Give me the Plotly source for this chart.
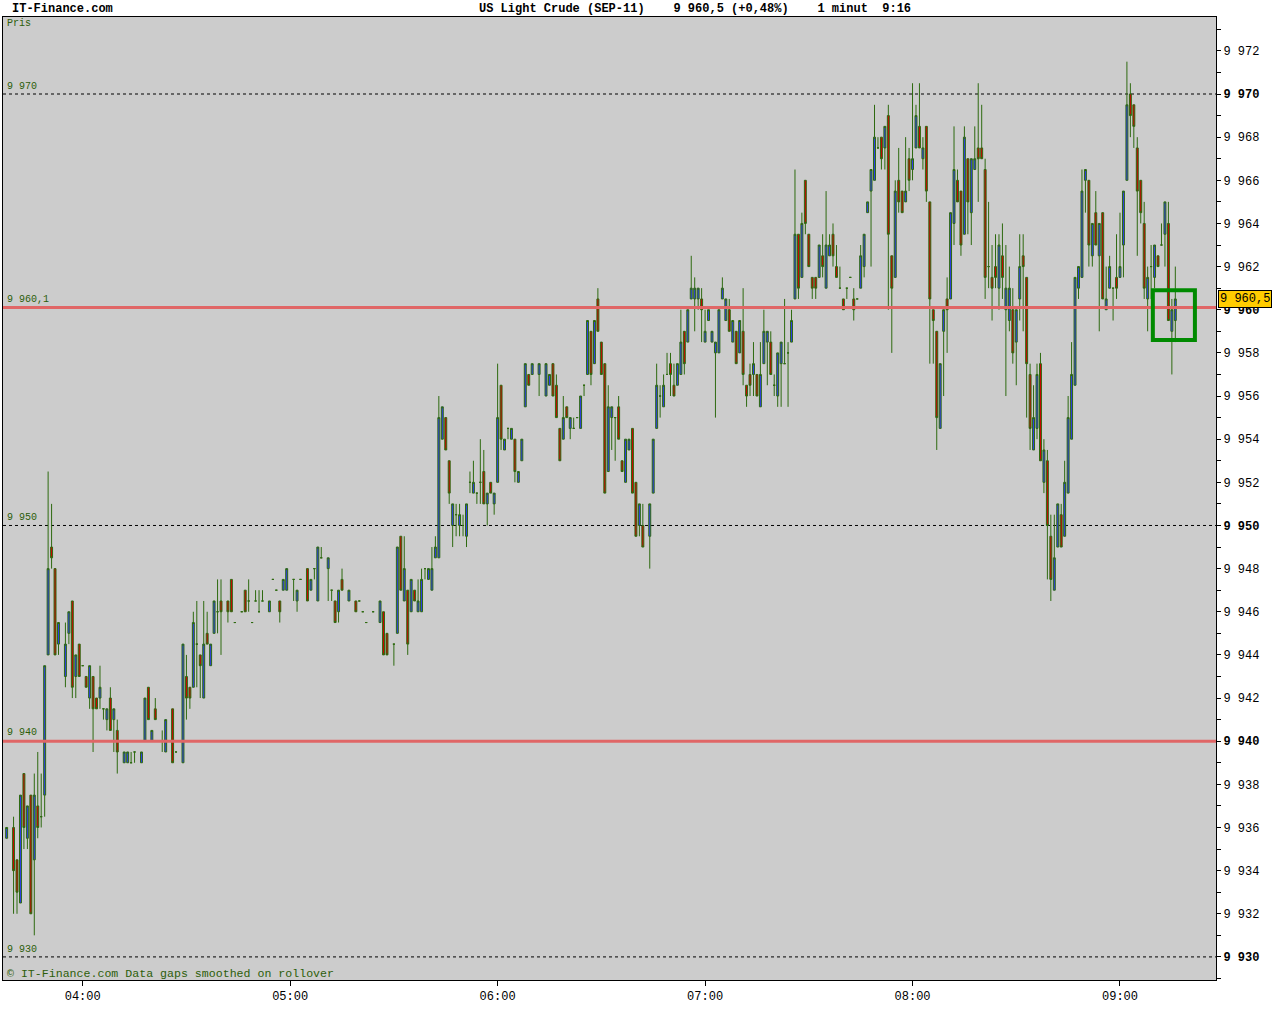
import plotly.graph_objects as go

DAY = "2011-08-03"

# ---------------- data (1-minute bars) ----------------
times = [
    # 03:xx
    "03:38", "03:40", "03:41", "03:42", "03:43", "03:44", "03:45", "03:46", "03:47", "03:48",
    "03:49", "03:50", "03:51", "03:52", "03:53", "03:55", "03:56", "03:57", "03:58", "03:59",
    # 04:xx
    "04:00", "04:01", "04:02", "04:03", "04:04", "04:05", "04:06", "04:07", "04:08", "04:09", "04:10",
    "04:12", "04:13", "04:14", "04:15",
    "04:17", "04:18", "04:19", "04:20", "04:21",
    "04:23", "04:24",
    "04:26", "04:27",
    "04:29", "04:30", "04:31", "04:32", "04:33", "04:34", "04:35", "04:36", "04:37", "04:38", "04:39", "04:40",
    "04:42", "04:43", "04:44",
    "04:46", "04:47", "04:48", "04:49", "04:50", "04:51", "04:52",
    "04:54", "04:55", "04:56", "04:57", "04:58", "04:59",
    # 05:xx
    "05:01", "05:02", "05:03", "05:05", "05:06", "05:07", "05:08", "05:09", "05:11", "05:12",
    "05:13", "05:14", "05:15", "05:17", "05:19", "05:20", "05:21", "05:22", "05:24", "05:26",
    "05:27", "05:28",
    "05:30", "05:31", "05:32", "05:33", "05:34", "05:35", "05:36", "05:37", "05:38", "05:39",
    "05:40", "05:41", "05:42", "05:43", "05:44", "05:45", "05:46", "05:47", "05:48", "05:49",
    "05:50", "05:51", "05:52", "05:53", "05:54", "05:55", "05:56", "05:57", "05:58", "05:59",
    # 06:xx
    "06:00", "06:01", "06:02", "06:03", "06:04", "06:05", "06:06", "06:07", "06:08", "06:09", "06:10",
    "06:12",
    "06:14", "06:15", "06:16", "06:17", "06:18", "06:19", "06:20", "06:21", "06:22", "06:23",
    "06:24", "06:25", "06:26", "06:27", "06:28", "06:29", "06:30", "06:31", "06:32", "06:33",
    "06:34", "06:35", "06:36", "06:37", "06:38", "06:39", "06:40", "06:41", "06:42",
    "06:44", "06:45", "06:46", "06:47", "06:48", "06:49", "06:50", "06:51", "06:52", "06:53",
    "06:54", "06:55", "06:56", "06:57", "06:58", "06:59",
    # 07:xx
    "07:00", "07:01", "07:02", "07:03", "07:04", "07:05", "07:06", "07:07", "07:08", "07:09",
    "07:10", "07:11", "07:12", "07:13", "07:14", "07:15", "07:16", "07:17", "07:18", "07:19",
    "07:20", "07:21", "07:22", "07:23", "07:24", "07:25", "07:26", "07:27", "07:28", "07:29",
    "07:30", "07:31", "07:32", "07:33", "07:34", "07:35", "07:36", "07:37", "07:38", "07:39",
    "07:40", "07:41", "07:42", "07:43", "07:44", "07:45", "07:46", "07:47", "07:48", "07:49",
    "07:50", "07:51", "07:52", "07:53", "07:54", "07:55", "07:56", "07:57", "07:58", "07:59",
    # 08:xx
    "08:00", "08:01", "08:02", "08:03", "08:04", "08:05", "08:06", "08:07", "08:08", "08:09",
    "08:10", "08:11", "08:12", "08:13", "08:14", "08:15", "08:16", "08:17", "08:18", "08:19",
    "08:20", "08:21", "08:22", "08:23", "08:24", "08:25", "08:26", "08:27", "08:28", "08:29",
    "08:30", "08:31", "08:32", "08:33", "08:34", "08:35", "08:36", "08:37", "08:38", "08:39",
    "08:40", "08:41", "08:42", "08:43", "08:44", "08:45", "08:46", "08:47", "08:48", "08:49",
    "08:50", "08:51", "08:52", "08:53", "08:54", "08:55", "08:56", "08:57", "08:58", "08:59",
    # 09:xx
    "09:00", "09:01", "09:02", "09:03", "09:04", "09:05", "09:06", "09:07", "09:08", "09:09",
    "09:10", "09:11", "09:12", "09:13", "09:14", "09:15", "09:16",
]

opens = [
    # 03
    9935.5, 9936, 9934.5, 9932.5, 9938.5, 9935.5, 9937.5, 9934.5, 9937, 9936.5,
    9937.5, 9944, 9949, 9948, 9944.5, 9943, 9945, 9946.5, 9943, 9944.5,
    # 04
    9943.5, 9943, 9942, 9943, 9942, 9942, 9941.5, 9941, 9942, 9941, 9940.5,
    9939, 9939, 9939, 9939.5,
    9939, 9940, 9942.5, 9940, 9941.5,
    9940, 9939.5,
    9941.5, 9939.5,
    9939, 9943, 9942.5, 9942.5, 9944.5, 9944, 9942, 9945, 9943.5, 9945, 9946, 9946.5,
    9946.5, 9947.5, 9945.5,
    9946, 9947, 9946.5, 9945.5, 9946.5, 9946, 9946.5,
    9946, 9947.5, 9947, 9946.5, 9947, 9947,
    # 05
    9947.5, 9946.5, 9947.5, 9948, 9947, 9948, 9946.5, 9948.5, 9948, 9947,
    9946.5, 9946, 9947.5, 9946.5, 9946.5, 9946.5, 9946, 9945.5, 9946, 9945.5,
    9946, 9945,
    9944.5, 9945, 9949.5, 9946.5, 9947, 9946, 9947, 9946, 9946, 9948,
    9947.5, 9947, 9948.5, 9948.5, 9954, 9955, 9953, 9950, 9950.5, 9950,
    9950, 9949.5, 9952, 9951.5, 9951.5, 9952, 9952.5, 9951, 9952, 9951,
    # 06
    9952, 9956.5, 9953.5, 9954.5, 9954, 9954, 9952, 9953, 9955.5, 9957, 9957,
    9957,
    9956, 9956.5, 9957.5, 9956.5, 9954.5, 9954, 9955.5, 9954.5, 9954.5, 9955,
    9954.5, 9956.5, 9957, 9959, 9957.5, 9960.5, 9958.5, 9957.5, 9952.5, 9955,
    9955, 9955.5, 9953, 9952, 9953.5, 9954.5, 9952, 9950, 9950,
    9949.5, 9951.5, 9954.5, 9956, 9955.5, 9957, 9957.5, 9956.5, 9956.5, 9957,
    9959, 9958.5, 9960.5, 9960.5, 9960.5, 9960.5,
    # 07
    9958.5, 9959.5, 9958.5, 9958, 9958, 9960.5, 9959.5, 9960, 9958.5, 9959,
    9958, 9959, 9956.5, 9957, 9957, 9957, 9955.5, 9957.5, 9958.5, 9958.5,
    9956.5, 9956, 9957.5, 9957.5, 9958, 9958.5, 9960.5, 9963.5, 9961.5, 9966,
    9963.5, 9961.5, 9961.5, 9961.5, 9962.5, 9961, 9962.5, 9963.5, 9962, 9961,
    9960.5, 9961, 9961.5, 9960.5, 9960.5, 9961, 9962, 9964.5, 9965.5, 9966,
    9967.5, 9968, 9967.5, 9969, 9962.5, 9961.5, 9966, 9965.5, 9965, 9967,
    # 08
    9966.5, 9967.5, 9968.5, 9967, 9968.5, 9965, 9960, 9959, 9954.5, 9959,
    9960.5, 9960.5, 9964, 9966, 9965.5, 9963.5, 9967, 9964.5, 9966.5, 9967.5,
    9967.5, 9966.5, 9962, 9961.5, 9962, 9961, 9962.5, 9960, 9959.5, 9960,
    9958.5, 9960.5, 9962.5, 9961.5, 9957, 9953.5, 9954.5, 9957.5, 9952, 9953,
    9949.5, 9947, 9949, 9950.5, 9949.5, 9951.5, 9954, 9956.5, 9961, 9961.5,
    9966, 9966, 9962.5, 9964.5, 9962.5, 9964.5, 9960, 9961, 9961, 9961.5,
    # 09
    9961.5, 9963, 9966, 9970, 9969.5, 9967.5, 9966, 9964, 9960.5, 9962,
    9961.5, 9962.5, 9963, 9963.5, 9964, 9959, 9959.5,
]

highs = [
    # 03
    9936, 9936.5, 9934.5, 9937.5, 9938.5, 9937, 9937.5, 9938.5, 9939.5, 9938.5,
    9943.5, 9952.5, 9951, 9948, 9945.5, 9945.5, 9946, 9946.5, 9944, 9944.5,
    # 04
    9943.5, 9943, 9943.5, 9943, 9942, 9943.5, 9941.5, 9941.5, 9942.5, 9941.5, 9941,
    9939.5, 9939.5, 9939.5, 9939.5,
    9939.5, 9942, 9942.5, 9940.5, 9942,
    9940.5, 9941,
    9941.5, 9939.5,
    9944.5, 9944, 9942.5, 9946, 9946.5, 9944, 9946.5, 9946, 9944.5, 9946.5, 9947.5, 9947.5,
    9946.5, 9947.5, 9945.5,
    9946, 9947, 9947.5, 9945.5, 9947, 9947, 9947,
    9946.5, 9947.5, 9947, 9946.5, 9947.5, 9948,
    # 05
    9947.5, 9947, 9947.5, 9948, 9947.5, 9948, 9949, 9949, 9948.5, 9947,
    9946.5, 9947, 9948, 9947, 9946.5, 9946.5, 9946, 9945.5, 9946, 9946.5,
    9946, 9945,
    9944.5, 9949, 9949.5, 9949.5, 9947, 9947.5, 9947, 9947.5, 9948, 9948,
    9948, 9949, 9949.5, 9956, 9955.5, 9955, 9953, 9951, 9951, 9951,
    9950.5, 9951, 9952.5, 9953, 9951.5, 9954, 9953.5, 9951.5, 9952, 9951.5,
    # 06
    9957.5, 9956.5, 9954, 9954.5, 9954.5, 9954, 9952.5, 9954, 9957.5, 9957, 9957.5,
    9957.5,
    9957.5, 9957, 9957.5, 9957, 9954.5, 9956, 9955.5, 9955, 9955, 9955,
    9956, 9956.5, 9959.5, 9959, 9959.5, 9961, 9958.5, 9957.5, 9956.5, 9955.5,
    9955, 9956, 9953, 9954, 9954, 9954.5, 9952, 9951, 9951,
    9951, 9954, 9957.5, 9956.5, 9957, 9958, 9958, 9957.5, 9957.5, 9960,
    9959, 9960, 9962.5, 9961.5, 9961, 9961,
    # 07
    9960, 9960, 9959, 9958.5, 9960, 9961.5, 9960.5, 9960.5, 9959.5, 9959,
    9959.5, 9961, 9956.5, 9957.5, 9958.5, 9957, 9958.5, 9960, 9959, 9959,
    9957, 9958, 9958.5, 9960.5, 9958.5, 9960, 9966.5, 9963.5, 9964.5, 9966,
    9963.5, 9961.5, 9961.5, 9963, 9963.5, 9965.5, 9963.5, 9964, 9963, 9962,
    9960.5, 9961, 9961.5, 9961, 9960.5, 9963, 9963.5, 9965, 9966.5, 9969.5,
    9968, 9968, 9968.5, 9969.5, 9962.5, 9966, 9967.5, 9965.5, 9968, 9967.5,
    # 08
    9970.5, 9969.5, 9970.5, 9968, 9968.5, 9965, 9960, 9959, 9957.5, 9960,
    9961.5, 9964.5, 9968.5, 9966.5, 9965.5, 9968.5, 9967, 9967, 9968.5, 9970.5,
    9969.5, 9967, 9965, 9963, 9963.5, 9963.5, 9964, 9963, 9962, 9961,
    9960, 9963.5, 9963.5, 9961.5, 9957.5, 9956.5, 9957.5, 9958, 9954, 9953.5,
    9950.5, 9950.5, 9951, 9951, 9953, 9956, 9958.5, 9961.5, 9962, 9966.5,
    9966.5, 9966, 9964, 9965.5, 9964, 9964.5, 9962, 9962.5, 9961, 9963.5,
    # 09
    9964.5, 9965.5, 9971.5, 9970.5, 9969.5, 9968, 9966, 9965, 9962, 9963,
    9963, 9962.5, 9964, 9965, 9965, 9960.5, 9962,
]

lows = [
    # 03
    9935.5, 9932, 9932, 9932.5, 9935, 9935, 9932, 9931, 9935.5, 9936,
    9936.5, 9944, 9948, 9944, 9944, 9942.5, 9944.5, 9942, 9942, 9943,
    # 04
    9943.5, 9942.5, 9941.5, 9939.5, 9941.5, 9941.5, 9941, 9940.5, 9940.5, 9939.5, 9938.5,
    9939, 9939, 9939, 9939,
    9939, 9940, 9941, 9940, 9941,
    9939.5, 9939.5,
    9939, 9939.5,
    9939, 9941, 9941.5, 9942.5, 9942.5, 9942, 9942, 9944.5, 9943.5, 9945, 9945, 9944,
    9945.5, 9946, 9945.5,
    9946, 9946, 9946, 9945.5, 9946.5, 9946, 9946.5,
    9946, 9947.5, 9947, 9945.5, 9947, 9947,
    # 05
    9946.5, 9946, 9947.5, 9946.5, 9947, 9947.5, 9946.5, 9948.5, 9946.5, 9946.5,
    9945.5, 9945.5, 9947, 9946.5, 9946, 9946.5, 9946, 9945.5, 9946, 9945.5,
    9944, 9944,
    9943.5, 9945, 9947, 9946.5, 9944, 9946, 9946.5, 9946, 9946, 9947.5,
    9947.5, 9947, 9948.5, 9948.5, 9954, 9953.5, 9951, 9949, 9949.5, 9949.5,
    9949.5, 9949, 9951.5, 9951.5, 9951, 9951, 9951, 9950, 9951.5, 9950.5,
    # 06
    9952, 9953.5, 9953.5, 9954, 9954, 9952, 9952, 9953, 9955.5, 9956.5, 9957,
    9956,
    9956, 9956.5, 9956, 9955, 9953, 9954, 9955, 9954, 9954.5, 9955,
    9954.5, 9956, 9957, 9956.5, 9957.5, 9959, 9957, 9951.5, 9952.5, 9953.5,
    9953, 9954, 9952.5, 9952, 9953.5, 9951.5, 9949.5, 9949.5, 9949,
    9948, 9951.5, 9954.5, 9955, 9955.5, 9957, 9956, 9956, 9956.5, 9957,
    9957, 9958.5, 9960.5, 9959, 9960, 9958.5,
    # 07
    9958.5, 9959.5, 9958.5, 9955, 9958, 9960.5, 9959.5, 9959, 9958.5, 9957.5,
    9958, 9956.5, 9955.5, 9956, 9956, 9956, 9955.5, 9957.5, 9956.5, 9957,
    9956, 9955.5, 9955.5, 9957.5, 9955.5, 9958.5, 9960.5, 9960.5, 9961.5, 9963.5,
    9962, 9960.5, 9960.5, 9961.5, 9961.5, 9961, 9962.5, 9962, 9961.5, 9961,
    9960, 9960.5, 9961.5, 9959.5, 9960.5, 9961, 9961.5, 9964.5, 9962, 9966,
    9967.5, 9966.5, 9966.5, 9960, 9958, 9961.5, 9964.5, 9964.5, 9965, 9965.5,
    # 08
    9966, 9967.5, 9967.5, 9966.5, 9965, 9957.5, 9957.5, 9953.5, 9954.5, 9956,
    9958, 9960.5, 9963, 9965, 9962.5, 9963.5, 9963.5, 9963, 9966.5, 9965,
    9967, 9960.5, 9961, 9959.5, 9961, 9960, 9960.5, 9956, 9959, 9957.5,
    9956.5, 9959.5, 9959, 9955, 9953.5, 9953.5, 9954, 9953, 9951.5, 9947.5,
    9946.5, 9947, 9949, 9949, 9949.5, 9951.5, 9954, 9956.5, 9960.5, 9961.5,
    9964.5, 9962, 9962, 9963, 9959, 9960.5, 9960, 9961, 9959.5, 9960.5,
    # 09
    9961.5, 9961.5, 9966, 9968, 9967.5, 9962.5, 9964, 9960.5, 9959, 9960.5,
    9961, 9962, 9963, 9962, 9959.5, 9957, 9958.5,
]

closes = [
    # 03
    9936, 9934, 9933, 9937.5, 9936, 9937, 9932, 9937.5, 9936, 9936.5,
    9943.5, 9948, 9948.5, 9944, 9945.5, 9944.5, 9946, 9942.5, 9944, 9943,
    # 04
    9943.5, 9942.5, 9943.5, 9941.5, 9941.5, 9942.5, 9941.5, 9941.5, 9940.5, 9941.5, 9939.5,
    9939.5, 9939.5, 9939, 9939.5,
    9939.5, 9942, 9941, 9940.5, 9941,
    9940, 9941,
    9939, 9939.5,
    9944.5, 9942, 9942, 9945.5, 9944.5, 9943.5, 9944.5, 9944.5, 9944.5, 9946.5, 9946, 9946,
    9946, 9946, 9945.5,
    9946, 9946, 9946.5, 9945.5, 9946.5, 9946, 9946.5,
    9946.5, 9947.5, 9947, 9946, 9947.5, 9948,
    # 05
    9947.5, 9947, 9947.5, 9946.5, 9947.5, 9948, 9949, 9948.5, 9948.5, 9947,
    9945.5, 9947, 9947, 9947, 9946, 9946.5, 9946, 9945.5, 9946, 9946.5,
    9944, 9944,
    9944.5, 9949, 9947, 9948, 9944.5, 9947.5, 9946.5, 9946.5, 9947.5, 9948,
    9948, 9948, 9949, 9955, 9955.5, 9953.5, 9951.5, 9951, 9950.5, 9950.5,
    9950, 9951, 9952, 9952, 9951.5, 9952, 9951, 9951.5, 9951.5, 9951.5,
    # 06
    9955, 9954, 9954, 9954.5, 9954.5, 9952.5, 9952.5, 9954, 9957.5, 9956.5, 9957.5,
    9957.5,
    9957.5, 9957, 9956, 9955, 9953, 9955, 9955, 9955, 9954.5, 9955,
    9956, 9956.5, 9959.5, 9957, 9959.5, 9959, 9957, 9951.5, 9955.5, 9955.5,
    9955, 9954, 9952.5, 9954, 9954, 9951.5, 9949.5, 9951, 9949,
    9951, 9954, 9956.5, 9956, 9956.5, 9957, 9957, 9956, 9957.5, 9958.5,
    9957.5, 9960, 9961, 9961, 9961, 9960,
    # 07
    9959, 9960, 9959, 9958.5, 9960, 9961, 9960.5, 9959, 9959.5, 9957.5,
    9959.5, 9957, 9956, 9956.5, 9957.5, 9956, 9957, 9959, 9959, 9957,
    9956.5, 9958, 9958.5, 9957.5, 9958, 9959.5, 9963.5, 9961, 9964, 9964,
    9962, 9961, 9961, 9963, 9962, 9963, 9963, 9962.5, 9961.5, 9961,
    9960, 9961, 9961.5, 9960, 9960.5, 9962.5, 9963.5, 9965, 9966.5, 9968,
    9967.5, 9967, 9968.5, 9963.5, 9961, 9965.5, 9965, 9964.5, 9965.5, 9966,
    # 08
    9967, 9969, 9967.5, 9967.5, 9965.5, 9960.5, 9959.5, 9955, 9957.5, 9960,
    9960, 9964.5, 9966.5, 9965, 9963, 9968, 9965, 9967, 9967, 9967,
    9967, 9961.5, 9962, 9961, 9961.5, 9963, 9961.5, 9961, 9961, 9958,
    9960, 9962, 9962, 9957.5, 9954.5, 9955, 9957, 9953, 9953.5, 9950,
    9947.5, 9948.5, 9951, 9949, 9952, 9955, 9957, 9961.5, 9962, 9965.5,
    9966.5, 9963, 9964, 9963, 9964, 9960.5, 9960.5, 9962, 9961, 9961,
    # 09
    9962, 9965.5, 9969.5, 9969, 9968.5, 9965.5, 9964.5, 9961, 9961.5, 9962,
    9963, 9962, 9963, 9965, 9959.5, 9960, 9960.5,
]

assert len(times) == len(opens) == len(highs) == len(lows) == len(closes), (
    len(times), len(opens), len(highs), len(lows), len(closes))

# reference levels
dotted_levels = [9970, 9950, 9930]
red_levels = [9960.1, 9940]
change_text = "+0,48%"
instrument = "US Light Crude (SEP-11)"
period_text = "1 minut"
clock_text = "9:16"

# ---------------- style ----------------
MONO = "Liberation Mono, Courier New, monospace"
GREEN_OUT = "#2e6a10"
GREEN_TXT = "#2d5e0a"
BLUE = "#2f3cf0"
RED = "#d00000"
RED_LINE = "#e06666"
BG = "#cccccc"


def fmt(v, dec=False):
    if dec:
        s = f"{v:.1f}".replace(".", ",")
        ip, fp = s.split(",")
        ip = int(ip)
        return f"{ip // 1000} {ip % 1000:03d},{fp}"
    v = int(round(v))
    return f"{v // 1000} {v % 1000:03d}"


x = [f"{DAY} {t}" for t in times]

fig = go.Figure()
fig.add_trace(go.Candlestick(
    x=x, open=opens, high=highs, low=lows, close=closes,
    increasing=dict(line=dict(color=GREEN_OUT, width=1), fillcolor=BLUE),
    decreasing=dict(line=dict(color=GREEN_OUT, width=1), fillcolor=RED),
    whiskerwidth=0, showlegend=False, hoverinfo="skip",
))

shapes = []
annotations = []
for lv in dotted_levels:
    shapes.append(dict(type="line", xref="paper", x0=0, x1=1, yref="y", y0=lv, y1=lv,
                       line=dict(color="black", width=1, dash="3px,3px"), layer="below"))
    annotations.append(dict(xref="paper", x=0.002, yref="y", y=lv, text=fmt(lv),
                            showarrow=False, xanchor="left", yanchor="bottom", yshift=0,
                            font=dict(family=MONO, size=10, color=GREEN_TXT)))
for lv in red_levels:
    shapes.append(dict(type="line", xref="paper", x0=0, x1=1, yref="y", y0=lv, y1=lv,
                       line=dict(color=RED_LINE, width=3), layer="above"))
    lab = fmt(lv, dec=True) if abs(lv - round(lv)) > 1e-9 else fmt(lv)
    annotations.append(dict(xref="paper", x=0.002, yref="y", y=lv, text=lab,
                            showarrow=False, xanchor="left", yanchor="bottom", yshift=1,
                            font=dict(family=MONO, size=10, color=GREEN_TXT)))

# highlight box around the latest bars
last_close = closes[-1]
shapes.append(dict(type="rect", xref="x", yref="y",
                   x0=f"{DAY} 09:09:30", x1=f"{DAY} 09:21:40",
                   y0=last_close - 1.9, y1=last_close + 0.4,
                   line=dict(color="#008a00", width=4), layer="above"))

# y ticks
tickvals = list(range(9929, 9974))
ticktext = []
for v in tickvals:
    if v % 2:
        ticktext.append("")
    elif v % 10 == 0:
        ticktext.append(f"<b>{fmt(v)}</b>")
    else:
        ticktext.append(fmt(v))

# texts
annotations += [
    dict(xref="paper", yref="paper", x=0.002, y=0.9935, text="Pris", showarrow=False,
         xanchor="left", yanchor="middle", font=dict(family=MONO, size=10, color=GREEN_TXT)),
    dict(xref="paper", yref="paper", x=0.0015, y=0.0065,
         text="© IT-Finance.com Data gaps smoothed on rollover", showarrow=False,
         xanchor="left", yanchor="middle", font=dict(family=MONO, size=11.6, color=GREEN_TXT)),
    dict(xref="paper", yref="paper", x=0.0058, y=1.0085, text="<b>IT-Finance.com</b>",
         showarrow=False, xanchor="left", yanchor="middle",
         font=dict(family=MONO, size=12, color="black")),
    dict(xref="paper", yref="paper", x=0.3905, y=1.0085,
         text="<b>" + instrument + "\u00a0\u00a0\u00a0\u00a0" + fmt(last_close, dec=True)
              + " (" + change_text + ")\u00a0\u00a0\u00a0\u00a0" + period_text
              + "\u00a0\u00a0" + clock_text + "</b>",
         showarrow=False, xanchor="left", yanchor="middle",
         font=dict(family=MONO, size=12, color="black")),
    dict(xref="paper", yref="y", x=1.0, y=last_close, text=fmt(last_close, dec=True),
         showarrow=False, xanchor="left", yanchor="middle", xshift=2,
         bgcolor="#ffcc00", bordercolor="black", borderwidth=1, borderpad=1,
         font=dict(family=MONO, size=12, color="black")),
]

fig.update_layout(
    width=1280, height=1024,
    margin=dict(l=3, r=64, t=17, b=44),
    paper_bgcolor="white", plot_bgcolor=BG,
    shapes=shapes, annotations=annotations,
    boxgap=0.2,
    xaxis=dict(
        type="date",
        range=[f"{DAY} 03:36:57", f"{DAY} 09:27:46"],
        rangeslider=dict(visible=False),
        showgrid=False, zeroline=False,
        showline=True, mirror=True, linecolor="black", linewidth=1,
        ticks="outside", ticklen=5, tickcolor="black",
        tick0=f"{DAY} 04:00", dtick=3600000, tickformat="%H:%M",
        tickfont=dict(family=MONO, size=12, color="black"),
    ),
    yaxis=dict(
        side="right",
        range=[9928.93, 9973.57],
        showgrid=False, zeroline=False,
        showline=True, mirror=True, linecolor="black", linewidth=1,
        ticks="outside", ticklen=4, tickcolor="black",
        tickvals=tickvals, ticktext=ticktext,
        tickfont=dict(family=MONO, size=12, color="black"),
    ),
)

fig.write_html("out.html", config={"displayModeBar": False},
               post_script="document.body.style.margin='0';document.body.style.overflow='hidden';")
